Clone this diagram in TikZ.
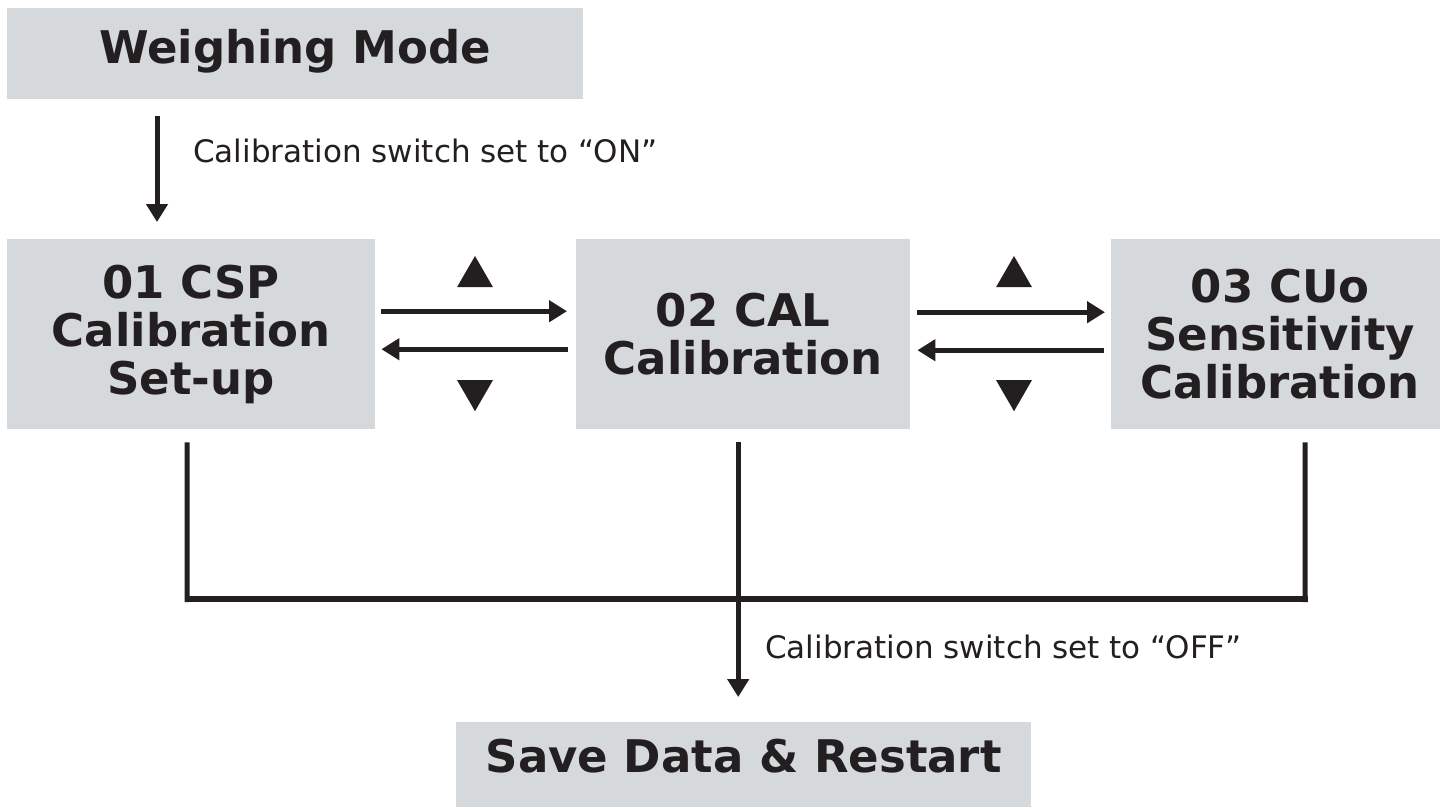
\documentclass[tikz,border=0pt]{standalone}
\usepackage{fontspec}
\setmainfont{DejaVu Sans}
\usetikzlibrary{arrows.meta,shapes.geometric}
\definecolor{boxgray}{RGB}{213,217,220}
\definecolor{ink}{RGB}{35,31,32}
\begin{document}
\begin{tikzpicture}[x=1pt,y=-1pt,
  box/.style={fill=boxgray, draw=none, inner sep=0pt, anchor=north west, align=center,
    font=\fontsize{45}{48}\selectfont\bfseries, text=ink},
  lbl/.style={font=\fontsize{31}{36}\selectfont, text=ink, inner sep=0pt, anchor=base west},
  conn/.style={draw=ink, line width=5pt},
  arr/.style={conn, -{Triangle[length=18pt,width=21pt]}},
  tri/.style={regular polygon, regular polygon sides=3, minimum size=41.6pt, inner sep=0pt, fill=ink, draw=none}
]
\useasboundingbox (0,0) rectangle (1440,807);
\clip (0,0) rectangle (1440,807);
\fill[white] (0,0) rectangle (1440,807);

% boxes
\node[box, minimum width=576pt, minimum height=91pt, text height=34pt, text depth=15pt] (wm) at (7,8) {Weighing Mode};
\node[box, minimum width=368pt, minimum height=190pt] (b1) at (7,239) {01 CSP\\Calibration\\Set-up};
\node[box, minimum width=334pt, minimum height=190pt] (b2) at (576,239) {02 CAL\\Calibration};
\node[box, minimum width=338pt, minimum height=190pt] (b3) at (1111,239) {03 CUo\\Sensitivity\\Calibration};
\node[box, minimum width=575pt, minimum height=85pt, text height=33pt, text depth=18pt] (save) at (456,722) {Save Data \& Restart};

% top arrow
\draw[arr] ([xshift=150pt,yshift=-17pt]wm.south west) -- ([xshift=150pt,yshift=17pt]b1.north west);
\node[lbl] (lon) at (193,162) {Calibration switch set to “ON”};

% horizontal arrows pair 1
\draw[arr] ([xshift=6pt,yshift=23pt]b1.east) -- ([xshift=-9pt,yshift=23pt]b2.west);
\draw[arr] ([xshift=-8pt,yshift=-15pt]b2.west) -- ([xshift=6pt,yshift=-15pt]b1.east);
\node[tri] (t1u) at (475,276.8) {};
\node[tri, shape border rotate=180] (t1d) at (475,390.4) {};

% horizontal arrows pair 2
\draw[arr] ([xshift=7pt,yshift=22pt]b2.east) -- ([xshift=-6pt,yshift=22pt]b3.west);
\draw[arr] ([xshift=-7pt,yshift=-16pt]b3.west) -- ([xshift=7pt,yshift=-16pt]b2.east);
\node[tri] (t2u) at (1014,276.8) {};
\node[tri, shape border rotate=180] (t2d) at (1014,390.4) {};

% bottom collector
\coordinate (j1) at (187,602);
\coordinate (j3) at (1305,602);
\coordinate (jl) at (184.5,599);
\coordinate (jr) at (1307.5,599);
\draw[conn] ([xshift=-4pt,yshift=-13pt]b1.south) -- (j1);
\draw[conn] ([xshift=25pt,yshift=-13pt]b3.south) -- (j3);
\draw[draw=ink, line width=6pt] (jl) -- (jr);
\draw[arr] ([xshift=-5pt,yshift=-13pt]b2.south) -- ([xshift=-5.5pt,yshift=25pt]save.north);
\node[lbl] (loff) at (765,658) {Calibration switch set to “OFF”};
\end{tikzpicture}
\end{document}
